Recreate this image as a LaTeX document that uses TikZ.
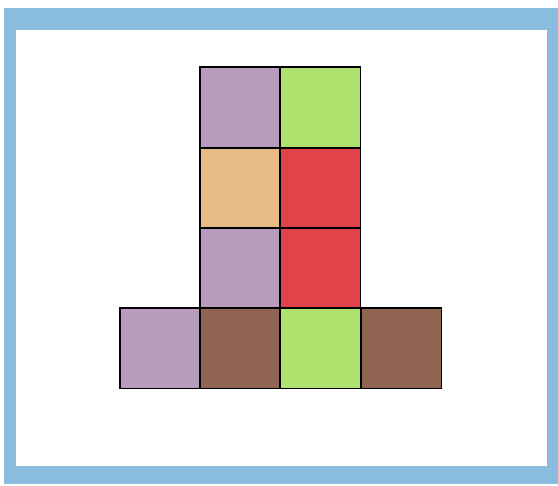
\documentclass[tikz,border=0pt]{standalone}
\begin{document}
\begin{tikzpicture}[x=1pt,y=-1pt,
  sq/.style={draw=black,line width=1.4pt,minimum size=80.5pt,inner sep=0pt,outer sep=0pt,anchor=north west},
  band/.style={fill=cblu}]
\definecolor{cblu}{RGB}{138,188,224}
\definecolor{cpur}{RGB}{184,156,188}
\definecolor{cgrn}{RGB}{174,226,110}
\definecolor{cora}{RGB}{232,186,132}
\definecolor{cred}{RGB}{224,68,74}
\definecolor{cbrn}{RGB}{143,100,80}
\useasboundingbox (0,0) rectangle (558,486);
\fill[white] (0,0) rectangle (558,486);
\fill[band] (4,8) rectangle (558,30);
\fill[band] (4,8) rectangle (16,484);
\fill[band] (547,8) rectangle (558,484);
\fill[band] (4,466) rectangle (558,484);
\node[sq,fill=cpur] (a1) at (200,67) {};
\node[sq,fill=cgrn] (a2) at (280,67) {};
\node[sq,fill=cora] (b1) at (200,148) {};
\node[sq,fill=cred] (b2) at (280,148) {};
\node[sq,fill=cpur] (c1) at (200,228) {};
\node[sq,fill=cred] (c2) at (280,228) {};
\node[sq,fill=cpur] (d0) at (120,308) {};
\node[sq,fill=cbrn] (d1) at (200,308) {};
\node[sq,fill=cgrn] (d2) at (280,308) {};
\node[sq,fill=cbrn] (d3) at (361,308) {};
\end{tikzpicture}
\end{document}
